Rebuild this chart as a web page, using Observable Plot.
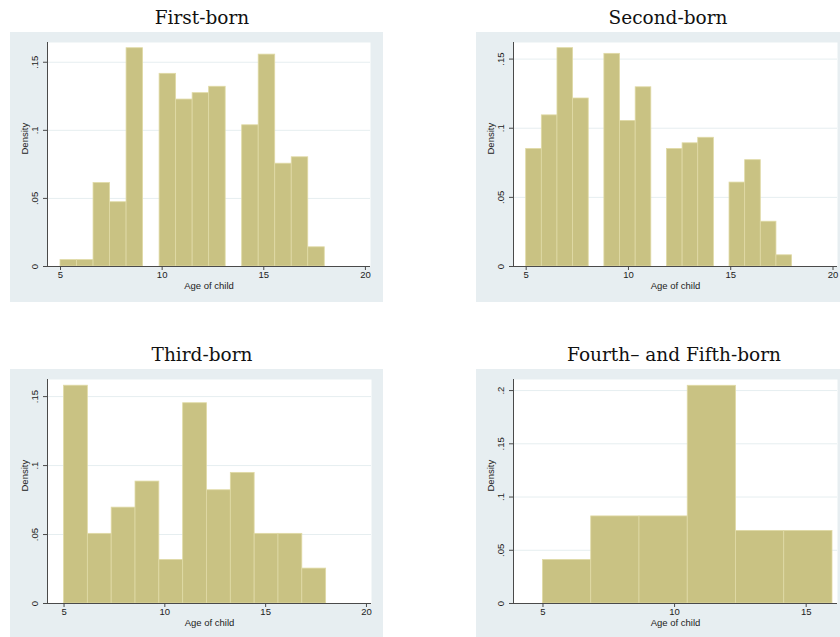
<!DOCTYPE html>
<html>
<head>
<meta charset="utf-8">
<script src="https://cdn.jsdelivr.net/npm/d3@7"></script>
<script src="https://cdn.jsdelivr.net/npm/@observablehq/plot@0.6"></script>
<style>
  html, body { margin: 0; padding: 0; background: #ffffff; }
  body { width: 840px; height: 637px; overflow: hidden; position: relative; }
  .panel { position: absolute; width: 373px; height: 270px; }
  .panel svg { max-width: none !important; width: 373px; height: 270px; display: block; }
  .title { position: absolute; width: 300px; text-align: center; font-family: "DejaVu Serif", "Liberation Serif", serif; font-size: 18.5px; color: #111; line-height: 22px; white-space: nowrap; }
</style>
</head>
<body>
<script>
// ---- data ----
const panelTitles = ["First-born", "Second-born", "Third-born", "Fourth\u2013 and Fifth-born"];
const axisXLabel = "Age of child";
const axisYLabel = "Density";

const ageTicks = [5, 10, 15, 20];
const ageTicksFourth = [5, 10, 15];
const densityTicks = [0, 0.05, 0.1, 0.15];
const densityTicksFourth = [0, 0.05, 0.1, 0.15, 0.2];

// bin range (start, end) of each histogram; bin count = length of the density list
const firstBins = [5, 18];
const secondBins = [5, 18];
const thirdBins = [5, 18];
const fourthBins = [5, 16];

const firstDensity = [0.0047, 0.0047, 0.0613, 0.0472, 0.1603, 0, 0.1415, 0.1226, 0.1273, 0.1320, 0, 0.1037, 0.1556, 0.0755, 0.0802, 0.0141];
const secondDensity = [0.0850, 0.1093, 0.1579, 0.1215, 0, 0.1538, 0.1053, 0.1296, 0, 0.0850, 0.0891, 0.0931, 0, 0.0607, 0.0769, 0.0324, 0.0081];
const thirdDensity = [0.1579, 0.0505, 0.0695, 0.0884, 0.0316, 0.1452, 0.0821, 0.0947, 0.0505, 0.0505, 0.0253];
const fourthDensity = [0.0409, 0.0818, 0.0818, 0.2045, 0.0682, 0.0682];

// ---- styles ----
const BG = "#e7eef1";
const GRID = "#e6eef0";
const FILL = "#c9c283";
const EDGE = "#e0daa6";
const AXIS = "#4a4a4a";
const FONT = "'Liberation Sans', Arial, sans-serif";

const fmt = d => d === 0 ? "0" : String(d).replace(/^0/, "");

const panels = [
  { title: panelTitles[0], values: firstDensity, bins: firstBins, xTicks: ageTicks, yTicks: densityTicks,
    left: 10, top: 32, titleX: 202, titleY: 7,
    margin: [10, 13, 36, 37], xDomain: [4.36, 20.25], yDomain: [0, 0.1645] },
  { title: panelTitles[1], values: secondDensity, bins: secondBins, xTicks: ageTicks, yTicks: densityTicks,
    left: 476, top: 32, titleX: 668, titleY: 7,
    margin: [10, 12, 36, 37], xDomain: [4.38, 20.22], yDomain: [0, 0.162] },
  { title: panelTitles[2], values: thirdDensity, bins: thirdBins, xTicks: ageTicks, yTicks: densityTicks,
    left: 10, top: 369, titleX: 202, titleY: 344,
    margin: [10, 12, 36, 37], xDomain: [4.18, 20.25], yDomain: [0, 0.1624] },
  { title: panelTitles[3], values: fourthDensity, bins: fourthBins, xTicks: ageTicksFourth, yTicks: densityTicksFourth,
    left: 476, top: 369, titleX: 674, titleY: 344,
    margin: [10, 12, 36, 37], xDomain: [3.88, 16.19], yDomain: [0, 0.2104] }
];

for (const p of panels) {
  const n = p.values.length;
  const w = (p.bins[1] - p.bins[0]) / n;
  const bars = p.values
    .map((v, i) => ({ x1: p.bins[0] + i * w, x2: p.bins[0] + (i + 1) * w, y: v }))
    .filter(d => d.y > 0);
  const [mt, mr, mb, ml] = p.margin;
  const chart = Plot.plot({
    width: 373, height: 270,
    marginTop: mt, marginRight: mr, marginBottom: mb, marginLeft: ml,
    style: { background: BG, fontFamily: FONT, fontSize: "9.5px", color: "#222", overflow: "visible", maxWidth: "none" },
    x: { domain: p.xDomain },
    y: { domain: p.yDomain },
    marks: [
      Plot.frame({ fill: "#ffffff", stroke: null }),
      Plot.gridY(p.yTicks.filter(t => t > 0), { stroke: GRID, strokeOpacity: 1, strokeWidth: 1 }),
      Plot.rectY(bars, { x1: "x1", x2: "x2", y: "y", fill: FILL, stroke: EDGE, strokeWidth: 0.8 }),
      Plot.ruleY([p.yDomain[0]], { stroke: AXIS, strokeWidth: 1 }),
      Plot.ruleX([p.xDomain[0]], { stroke: AXIS, strokeWidth: 1 }),
      Plot.axisX(p.xTicks, { tickSize: 4, tickPadding: 1, stroke: AXIS, label: null, fontSize: 9.5 }),
      Plot.axisY(p.yTicks, { tickSize: 4, tickPadding: 6, tickRotate: -90, tickFormat: fmt, stroke: AXIS, label: null, fontSize: 9.5 }),
      Plot.text([axisXLabel], { frameAnchor: "bottom", dy: 22, fontSize: 9.5 }),
      Plot.text([axisYLabel], { frameAnchor: "left", rotate: -90, dx: -23, fontSize: 9.5 })
    ]
  });
  const holder = document.createElement("div");
  holder.className = "panel";
  holder.style.left = p.left + "px";
  holder.style.top = p.top + "px";
  holder.appendChild(chart);
  document.body.appendChild(holder);

  const t = document.createElement("div");
  t.className = "title";
  t.textContent = p.title;
  t.style.left = (p.titleX - 150) + "px";
  t.style.top = p.titleY + "px";
  document.body.appendChild(t);
}
</script>
</body>
</html>
